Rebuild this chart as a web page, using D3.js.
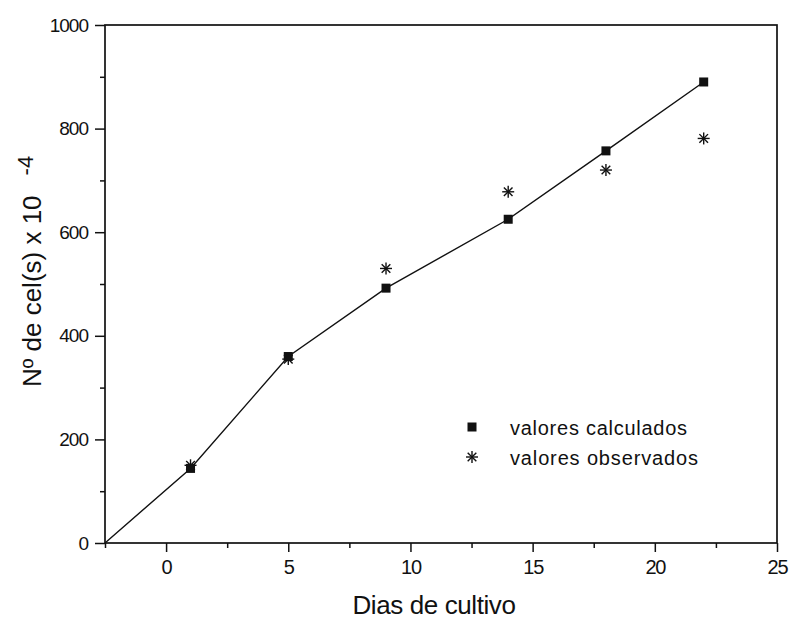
<!DOCTYPE html>
<html><head><meta charset="utf-8">
<script src="https://cdn.jsdelivr.net/npm/d3@7"></script>
<style>body{margin:0;background:#fff}svg{display:block}text{font-family:"Liberation Sans",Arial,sans-serif;fill:#111}</style>
</head><body><svg id="c" width="791" height="623"></svg>
<script>
const days = [1, 5, 9, 14, 18, 22];
const calculados = [144, 360, 492, 625, 757, 890];
const observados = [150, 355, 530, 678, 720, 781];
const lineDays = [-2.5, 1, 5, 9, 14, 18, 22];
const lineValues = [0, 144, 360, 492, 625, 757, 890];
const xTicks = [0, 5, 10, 15, 20, 25];
const xMinor = [-2.5, 2.5, 7.5, 12.5, 17.5, 22.5];
const yTicks = [0, 200, 400, 600, 800, 1000];
const yMinor = [100, 300, 500, 700, 900];
const legendLabels = ["valores calculados", "valores observados"];

const svg = d3.select("#c");
const L = 105, R = 777, T = 25, B = 543;
const x = d3.scaleLinear().domain([-2.5, 25]).range([L, R]);
const y = d3.scaleLinear().domain([0, 1000]).range([B, T]);

// frame
svg.append("rect").attr("x", L).attr("y", T).attr("width", R - L).attr("height", B - T)
  .attr("fill", "none").attr("stroke", "#111").attr("stroke-width", 1.7);

// x axis
const xa = svg.append("g").attr("transform", `translate(0,${B})`)
  .call(d3.axisBottom(x).tickValues(xTicks).tickSize(9).tickPadding(8).tickFormat(d3.format("d")));
xa.select(".domain").remove();
xa.selectAll("line").attr("stroke", "#111").attr("stroke-width", 1.5);
xa.selectAll("text").attr("font-size", 20).attr("letter-spacing", -1.2).attr("fill", "#111");
const xm = svg.append("g").attr("transform", `translate(0,${B})`)
  .call(d3.axisBottom(x).tickValues(xMinor).tickSize(5).tickFormat(""));
xm.select(".domain").remove();
xm.selectAll("line").attr("stroke", "#111").attr("stroke-width", 1.5);

// y axis
const ya = svg.append("g").attr("transform", `translate(${L},0)`)
  .call(d3.axisLeft(y).tickValues(yTicks).tickSize(10).tickPadding(7).tickFormat(d3.format("d")));
ya.select(".domain").remove();
ya.selectAll("line").attr("stroke", "#111").attr("stroke-width", 1.5);
ya.selectAll("text").attr("font-size", 19).attr("letter-spacing", -1).attr("fill", "#111");
const ym = svg.append("g").attr("transform", `translate(${L},0)`)
  .call(d3.axisLeft(y).tickValues(yMinor).tickSize(5).tickFormat(""));
ym.select(".domain").remove();
ym.selectAll("line").attr("stroke", "#111").attr("stroke-width", 1.5);

// line
svg.append("path").datum(lineDays.map((d, i) => [d, lineValues[i]]))
  .attr("d", d3.line().x(d => x(d[0])).y(d => y(d[1])))
  .attr("fill", "none").attr("stroke", "#111").attr("stroke-width", 1.4);

// asterisk symbol
function asterisk(g, cx, cy, r) {
  const a = r * 0.72;
  const segs = [[0, -r, 0, r], [-r, 0, r, 0], [-a, -a, a, a], [-a, a, a, -a]];
  segs.forEach(s => g.append("line").attr("x1", cx + s[0]).attr("y1", cy + s[1])
    .attr("x2", cx + s[2]).attr("y2", cy + s[3]).attr("stroke", "#111").attr("stroke-width", 1.4));
}
const obs = svg.append("g");
days.forEach((d, i) => asterisk(obs, x(d), y(observados[i]), 6));

// squares
svg.append("g").selectAll("rect").data(days).join("rect")
  .attr("x", (d) => x(d) - 4.5).attr("y", (d, i) => y(calculados[i]) - 4.5)
  .attr("width", 9).attr("height", 9).attr("fill", "#111");

// legend
svg.append("rect").attr("x", 467.5).attr("y", 422.5).attr("width", 9).attr("height", 9).attr("fill", "#111");
asterisk(svg.append("g"), 472, 457, 6);
svg.append("text").attr("x", 510).attr("y", 435).attr("font-size", 20)
  .attr("textLength", 177).attr("lengthAdjust", "spacing").text(legendLabels[0]);
svg.append("text").attr("x", 510).attr("y", 465).attr("font-size", 20)
  .attr("textLength", 188).attr("lengthAdjust", "spacing").text(legendLabels[1]);

// axis titles
svg.append("text").attr("x", 434).attr("y", 614).attr("text-anchor", "middle")
  .attr("font-size", 26).attr("letter-spacing", -0.4).text("Dias de cultivo");
const yt = svg.append("text").attr("transform", "translate(41,387) rotate(-90)")
  .attr("text-anchor", "start").attr("font-size", 26);
yt.append("tspan").text("Nº de cel(s) x 10");
yt.append("tspan").attr("dx", 20).attr("dy", -8).attr("font-size", 22).text("-4");
</script></body></html>
